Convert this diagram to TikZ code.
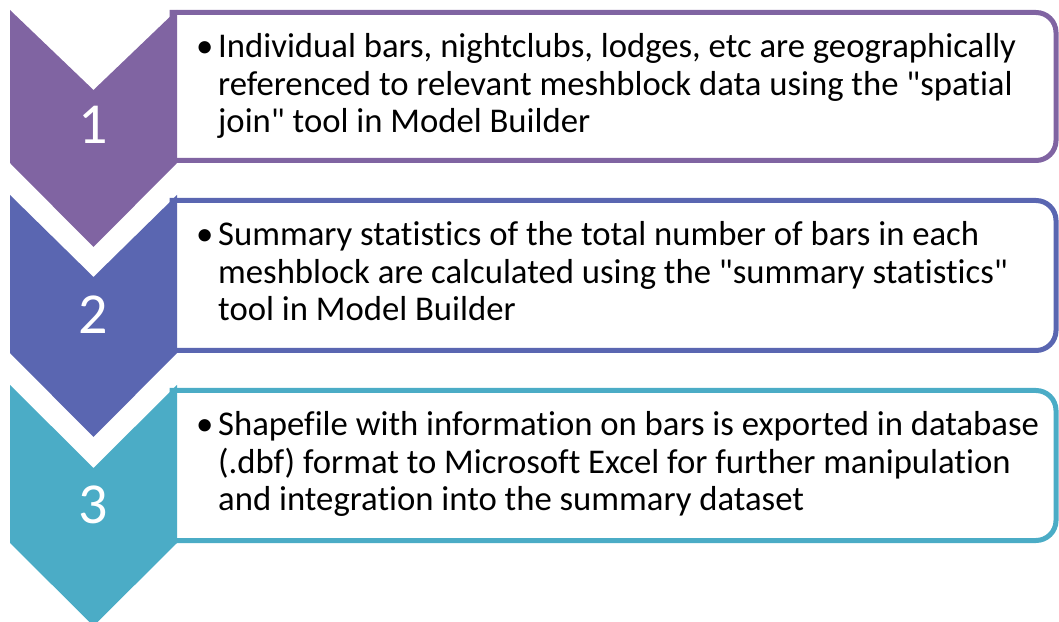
\documentclass[tikz,border=0pt]{standalone}
\usepackage{fontspec}
\setmainfont{Carlito}[Ligatures={TeXOff,CommonOff}]
\definecolor{cA}{HTML}{8064A2}
\definecolor{cB}{HTML}{5A66B1}
\definecolor{cC}{HTML}{4BACC6}
\tikzset{
  boxline/.style={line width=5pt, fill=white},
  num/.style={text=white, font=\fontsize{58pt}{60pt}\selectfont, inner sep=0},
  bul/.style={anchor=base west, inner sep=0, font=\fontsize{34.7pt}{37.5pt}\selectfont},
  txt/.style={anchor=base west, inner sep=0, font=\fontsize{34.7pt}{37.5pt}\selectfont}
}
\begin{document}
\begin{tikzpicture}[x=1pt,y=1pt]
\useasboundingbox (0,0) rectangle (1059,621);
\clip (0,0) rectangle (1059,621);
% boxes
\draw[boxline, draw=cA] (172,608.5) -- (1036,608.5) arc[start angle=90,end angle=0,radius=20pt] -- (1056,480.5) arc[start angle=0,end angle=-90,radius=20pt] -- (172,460.5) -- cycle;
\draw[boxline, draw=cB] (172,420.5) -- (1036,420.5) arc[start angle=90,end angle=0,radius=20pt] -- (1056,290.5) arc[start angle=0,end angle=-90,radius=20pt] -- (172,270.5) -- cycle;
\draw[boxline, draw=cC] (172,230.5) -- (1036,230.5) arc[start angle=90,end angle=0,radius=20pt] -- (1056,100.5) arc[start angle=0,end angle=-90,radius=20pt] -- (172,80.5) -- cycle;
% chevrons
\fill[cA] (10,611) -- (93.5,531) -- (177,611) -- (177,458) -- (93.5,374) -- (10,458) -- cycle;
\fill[cB] (10,426) -- (93.5,344) -- (177,426) -- (177,268) -- (93.5,184) -- (10,268) -- cycle;
\fill[cC] (10,236) -- (93.5,153) -- (177,236) -- (177,78) -- (93.5,-5) -- (10,78) -- cycle;
% numbers
\node[num] (n1) at (93.5,496) {1};
\node[num] (n2) at (93.5,306) {2};
\node[num] (n3) at (93.5,116) {3};
% texts
\node[bul] (b1) at (196,563) {•};
\node[txt] (t1) at (218,563) {\parbox[t]{835pt}{\raggedright Individual bars, nightclubs, lodges, etc are geographically\\referenced to relevant meshblock data using the "spatial\\join" tool in Model Builder}};
\node[bul] (b2) at (196,375) {•};
\node[txt] (t2) at (218,375) {\parbox[t]{835pt}{\raggedright Summary statistics of the total number of bars in each\\meshblock are calculated using the "summary statistics"\\tool in Model Builder}};
\node[bul] (b3) at (196,185) {•};
\node[txt] (t3) at (218,185) {\parbox[t]{835pt}{\raggedright Shapefile with information on bars is exported in database\\(.dbf) format to Microsoft Excel for further manipulation\\and integration into the summary dataset}};
\end{tikzpicture}
\end{document}
